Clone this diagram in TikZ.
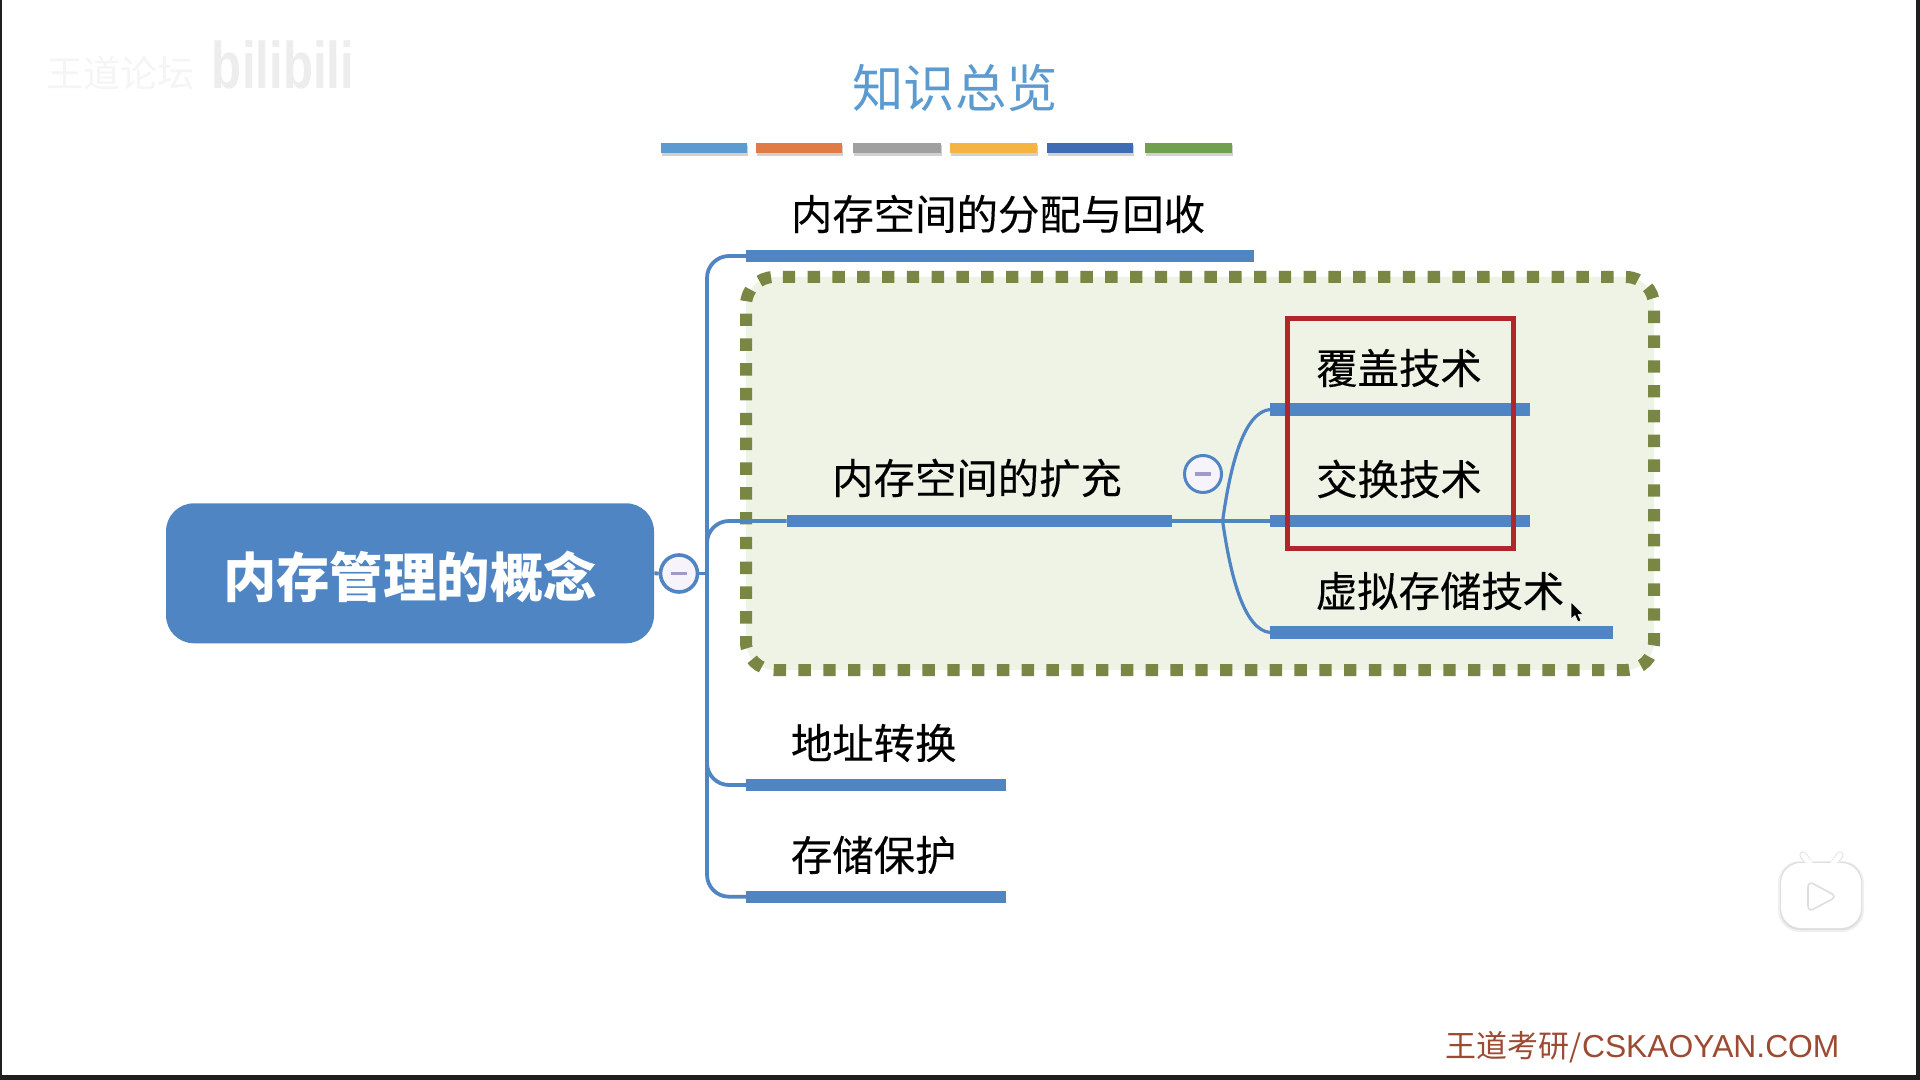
\documentclass[tikz,border=0pt]{standalone}
\usepackage{fontspec}
\setmainfont{Noto Sans CJK SC}
\newfontfamily\latinfont{Liberation Sans}
\newfontfamily\labelfont[FakeBold=0.25]{Noto Sans CJK SC}
\definecolor{mmblue}{HTML}{5085C4}
\definecolor{titleblue}{HTML}{5B9BD0}
\definecolor{dotgreen}{HTML}{7A8643}
\definecolor{boxgreen}{HTML}{EFF3E6}
\definecolor{redbox}{HTML}{B0262C}
\definecolor{footerred}{HTML}{9C4A32}
\definecolor{minuscol}{HTML}{9E9BC8}
\definecolor{collfill}{HTML}{F6F4FA}
\tikzset{
  x=.5pt,y=-.5pt,
  conn/.style={draw=mmblue,line width=1.9pt},
  bar/.style={fill=mmblue,inner sep=0pt,minimum height=6.2pt,anchor=west},
  label/.style={inner sep=0pt,text=black,font=\fontsize{20.7}{24}\labelfont},
  collapse/.style={circle,draw=mmblue,fill=collfill,line width=1.8pt,minimum size=18.5pt,inner sep=0pt},
}
\newcommand{\minusmark}[1]{\draw[minuscol,line width=1.6pt] ($(#1)+(-8,0)$) -- ($(#1)+(8,0)$);}
\usetikzlibrary{calc}
\begin{document}
\begin{tikzpicture}
\useasboundingbox (0,0) rectangle (1920,1080);
% frame of the screenshot
\fill[black!88] (0,0) rectangle (1920,1080);
\fill[white] (2,0) rectangle (1916,1075);
% watermark
\node[inner sep=0pt,text=black!4,font=\fontsize{18.5}{22}\selectfont] (wm) at (120,73) {王道论坛};
\node[inner sep=0pt,text=black!7,xscale=.82,yscale=1.1,font=\fontsize{30}{34}\latinfont\bfseries] (bl) at (283,65) {bilibili};
% title
\node[inner sep=0pt,text=titleblue,font=\fontsize{25.7}{30}\selectfont] (title) at (955,88) {知识总览};
% colour swatches
\foreach \a/\b/\c in {661/747/5B9BD0,756/842/E07B45,853/941/A0A0A0,950/1037/F5B342,1047/1133/3F6DB3,1145/1232/70A04E}{
  \definecolor{sw}{HTML}{\c}
  \fill[black!18] (\a+1,145.5) rectangle (\b+1,156);
  \fill[sw] (\a,143) rectangle (\b,153);
}
% green dashed box
\path[fill=boxgreen,rounded corners=14pt] (746,277) -- (1654,277) -- (1654,670) -- (746,670) -- cycle;
\draw[dotgreen,line width=6pt,dash pattern=on 6.2pt off 6.2pt,rounded corners=14pt]
  (782.8,277) -- (1654,277) -- (1654,670) -- (746,670) -- (746,277) -- (782.8,277);
% main node
\node[rounded corners=14pt,fill=mmblue,minimum width=244pt,minimum height=70pt,inner sep=0pt,text=white,font=\fontsize{26.7}{30}\selectfont\bfseries] (main) at (410,573.3) {\raisebox{-2pt}[\height][\depth]{内存管理的概念}};
% bars
\node[bar,minimum width=254pt] (b1) at (746,256) {};
\node[bar,minimum width=192.3pt] (b2) at (786.5,521) {};
\node[bar,minimum width=130pt] (b3) at (746,785) {};
\node[bar,minimum width=130pt] (b4) at (746,896.7) {};
\node[bar,minimum width=130pt] (c1) at (1270,409.5) {};
\node[bar,minimum width=130pt] (c2) at (1270,521) {};
\node[bar,minimum width=171.5pt] (c3) at (1270,632.5) {};
% labels
\node[label] (t1) at (998,214) {内存空间的分配与回收};
\node[label] (t2) at (977,478) {内存空间的扩充};
\node[label] (t3) at (873.7,743) {地址转换};
\node[label] (t4) at (873.7,855) {存储保护};
\node[label] (u1) at (1399,368) {覆盖技术};
\node[label] (u2) at (1399,479) {交换技术};
\node[label] (u3) at (1440,591) {虚拟存储技术};
% connectors
\coordinate (trunk) at (707,573.5);
\coordinate (fork) at (1222.6,521);
\draw[conn,rounded corners=11pt] (b1.west) -| (trunk) |- (b4.west);
\draw[conn,rounded corners=11pt] (trunk) |- (b3.west);
\draw[conn,rounded corners=11pt] (trunk) |- (b2.west);
\draw[conn,line width=1.6pt] (b2.east) -- (c2.west);
\draw[conn,line width=1.6pt] (fork) .. controls (1231,460) and (1245,412) .. (c1.west);
\draw[conn,line width=1.6pt] (fork) .. controls (1231,580) and (1245,630) .. (c3.west);
% collapse buttons
\node[collapse] (k1) at (679,573.5) {};
\draw[conn] (main.east) -- (k1.west);
\draw[conn] (k1.east) -- (trunk);
\minusmark{k1}
\node[collapse,line width=1.5pt] (k2) at (1203,474) {};
\minusmark{k2}
% red rectangle
\draw[redbox,line width=2.5pt] (1287,319) rectangle (1513.5,548);
% cursor
\draw[white,fill=black,line width=.3pt,line join=round] (1571,602) -- (1571,619) -- (1575,615.5) -- (1578,622) -- (1581,620.5) -- (1578,614.5) -- (1583,614) -- cycle;
% video logo
\draw[black!12,line width=3.6pt,line cap=round] (1803,855) -- (1811,866);
\draw[black!12,line width=3.6pt,line cap=round] (1840,855) -- (1832,866);
\fill[black!6,rounded corners=11pt] (1778,861) rectangle (1864,932);
\fill[black!13,rounded corners=10pt] (1780,862) rectangle (1862,930);
\fill[white,rounded corners=10pt] (1781,863) rectangle (1861,928);
\draw[white,line width=2.6pt,line cap=round] (1803,855) -- (1811,865);
\draw[white,line width=2.6pt,line cap=round] (1840,855) -- (1832,865);
\fill[white,draw=black!13,line width=.8pt,rounded corners=3pt] (1808,881) -- (1837,896.5) -- (1808,912) -- cycle;
% footer
\node[inner sep=0pt,anchor=west,text=footerred,font=\fontsize{15.5}{18}\selectfont] (foot) at (1445.5,1047) {王道考研/{\latinfont\fontsize{15.9}{18}\selectfont CSKAOYAN.COM}};
\end{tikzpicture}
\end{document}
